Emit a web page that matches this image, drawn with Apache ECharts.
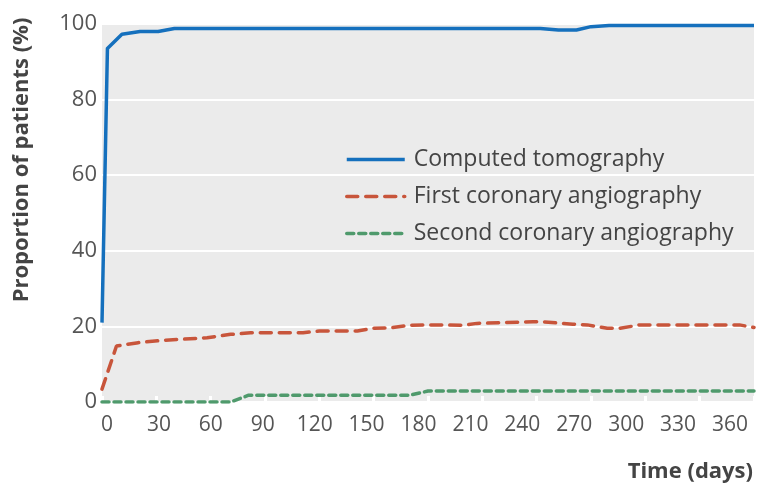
<!DOCTYPE html>
<html>
<head>
<meta charset="utf-8">
<script src="https://cdn.jsdelivr.net/npm/echarts@6/dist/echarts.min.js"></script>
<style>
    html, body { margin: 0; padding: 0; background: #fff; }
    #chart { width: 759px; height: 489px; }
</style>
</head>
<body>
<div id="chart"></div>
<script>
    // values (day, % of patients)
    var ctDays   = [0, 3, 11, 21, 31, 40, 120, 242, 252, 262, 270, 280, 360];
    var ctValues = [21, 93.5, 97.3, 98, 98, 98.8, 98.8, 98.8, 98.4, 98.4, 99.3, 99.6, 99.6];

    var firstDays   = [0, 8, 20, 33, 58, 71, 82, 111, 120, 141, 150, 159, 170, 181, 199, 207, 238, 244, 260, 268, 279, 286, 297, 352, 360];
    var firstValues = [3.4, 14.8, 15.7, 16.3, 17, 17.9, 18.3, 18.3, 18.8, 18.8, 19.5, 19.6, 20.3, 20.4, 20.3, 20.8, 21.2, 21.2, 20.6, 20.4, 19.5, 19.5, 20.4, 20.4, 19.7];

    var secondDays   = [0, 71, 81, 170, 180, 360];
    var secondValues = [0, 0, 1.8, 1.8, 2.9, 2.9];

    var seriesNames = ['Computed tomography', 'First coronary angiography', 'Second coronary angiography'];
    var colors = ['#1570bd', '#c8553b', '#4f9a6c'];

    function pairs(xs, ys) {
        var out = [];
        for (var i = 0; i < xs.length; i++) out.push([xs[i], ys[i]]);
        return out;
    }

    var font = 'Open Sans';
    var chart = echarts.init(document.getElementById('chart'));
    chart.setOption({
        animation: false,
        color: colors,
        grid: [
            {
                left: 102, right: 5, top: 24, bottom: 87,
                show: true, backgroundColor: '#ebebeb', borderWidth: 0
            },
            // the printed day labels sit a little tighter than the ticks
            { left: 107, right: 29, top: 24, bottom: 87, show: false }
        ],
        legend: {
            orient: 'vertical',
            left: 340,
            top: 143,
            itemWidth: 58,
            itemHeight: 14,
            itemGap: 14,
            data: seriesNames,
            itemStyle: { opacity: 0 },
            lineStyle: { width: 3.5 },
            textStyle: { fontFamily: font, fontSize: 23, color: '#444', padding: [0, 0, 0, 4] }
        },
        xAxis: [
            {
                type: 'value', gridIndex: 0,
                min: 0, max: 360, interval: 30,
                axisLine: { show: false },
                axisTick: { show: true, inside: true, length: 6, lineStyle: { color: '#fff', width: 3 } },
                splitLine: { show: false },
                axisLabel: { show: false }
            },
            {
                type: 'value', gridIndex: 1,
                min: 0, max: 360, interval: 30,
                axisLine: { show: false },
                axisTick: { show: false },
                splitLine: { show: false },
                axisLabel: {
                    fontFamily: font, fontSize: 21, color: '#555', margin: 13,
                    showMinLabel: true, showMaxLabel: true
                }
            }
        ],
        yAxis: [
            {
                type: 'value', gridIndex: 0,
                min: 0, max: 100, interval: 20,
                axisLine: { show: false },
                axisTick: { show: false },
                splitLine: { lineStyle: { color: '#fff', width: 2 } },
                axisLabel: { fontFamily: font, fontSize: 22, color: '#555', margin: 5 }
            },
            {
                type: 'value', gridIndex: 1, show: false,
                min: 0, max: 100
            }
        ],
        graphic: [
            {
                type: 'text',
                x: 22, y: 160,
                rotation: Math.PI / 2,
                style: {
                    text: 'Proportion of patients (%)',
                    fontFamily: font, fontSize: 22, fontWeight: 'bold', fill: '#444',
                    align: 'center', verticalAlign: 'middle'
                }
            },
            {
                type: 'text',
                x: 753, y: 472,
                style: {
                    text: 'Time (days)',
                    fontFamily: font, fontSize: 22, fontWeight: 'bold', fill: '#444',
                    align: 'right', verticalAlign: 'middle'
                }
            }
        ],
        series: [
            {
                name: seriesNames[0], type: 'line', showSymbol: false, symbol: 'none',
                lineStyle: { width: 3.5, color: colors[0], join: 'round' },
                data: pairs(ctDays, ctValues)
            },
            {
                name: seriesNames[1], type: 'line', showSymbol: false, symbol: 'none',
                lineStyle: { width: 3.5, color: colors[1], type: [11, 8], cap: 'round' },
                data: pairs(firstDays, firstValues)
            },
            {
                name: seriesNames[2], type: 'line', showSymbol: false, symbol: 'none',
                lineStyle: { width: 3.5, color: colors[2], type: [7, 5], cap: 'round' },
                data: pairs(secondDays, secondValues)
            }
        ]
    });
</script>
</body>
</html>
